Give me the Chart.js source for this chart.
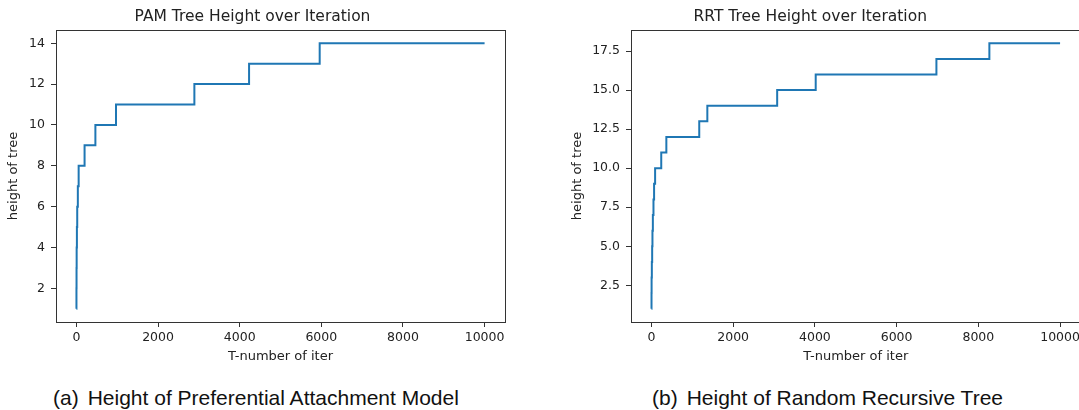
<!DOCTYPE html>
<html>
<head>
<meta charset="utf-8">
<script src="https://cdn.jsdelivr.net/npm/chart.js@4"></script>
<style>
  html, body { margin: 0; padding: 0; background: #fff; overflow: hidden; }
  body { width: 1079px; height: 410px; position: relative; }
  canvas { position: absolute; top: 0; }
  #pam-chart { left: 0; }
  #rrt-chart { left: 540px; }
  .caption { position: absolute; top: 386px; font-family: 'Liberation Sans', Arial, sans-serif; font-size: 21px; color: #111; white-space: nowrap; }
  .caption .lab { margin-right: 9px; }
</style>
</head>
<body>
<canvas id="pam-chart" width="540" height="375"></canvas>
<canvas id="rrt-chart" width="545" height="375"></canvas>
<div class="caption" style="left:53px"><span class="lab">(a)</span>Height of Preferential Attachment Model</div>
<div class="caption" style="left:652px"><span class="lab">(b)</span>Height of Random Recursive Tree</div>
<script>
const xTicks = [0, 2000, 4000, 6000, 8000, 10000];

// PAM: iteration where the tree height goes up, and the new height
const pamIter = [0, 1, 3, 6, 12, 20, 35, 55, 200, 465, 970, 2890, 4230, 5960, 10000];
const pamHeight = [1, 2, 3, 4, 5, 6, 7, 8, 9, 10, 11, 12, 13, 14, 14];
const pamTicks = [2, 4, 6, 8, 10, 12, 14];

// RRT
const rrtIter = [0, 2, 4, 10, 18, 25, 35, 50, 65, 90, 240, 365, 1170, 1368, 3077, 4020, 6974, 8270, 10000];
const rrtHeight = [1, 2, 3, 4, 5, 6, 7, 8, 9, 10, 11, 12, 13, 14, 15, 16, 17, 18, 18];
const rrtTicks = [2.5, 5, 7.5, 10, 12.5, 15, 17.5];

Chart.defaults.font.family = "'DejaVu Sans', sans-serif";
Chart.defaults.color = '#222';

// matplotlib style box round the axes
const frame = {
  id: 'frame',
  afterDraw(chart) {
    const { ctx, chartArea: a } = chart;
    ctx.save();
    ctx.strokeStyle = '#333';
    ctx.lineWidth = 1;
    ctx.strokeRect(Math.round(a.left) + 0.5, Math.round(a.top) + 0.5, Math.round(a.right - a.left), Math.round(a.bottom - a.top));
    ctx.restore();
  }
};

function makeChart(canvasId, title, iters, heights, yTicks, yMin, yMax, yFmt, yAxisWidth, yTitlePad, padRight) {
  const ctx = document.getElementById(canvasId).getContext('2d');
  return new Chart(ctx, {
    type: 'line',
    data: {
      datasets: [{
        data: iters.map((x, i) => ({ x: x, y: heights[i] })),
        borderColor: '#1f77b4',
        borderWidth: 2,
        pointRadius: 0,
        stepped: true,
        fill: false
      }]
    },
    options: {
      responsive: false,
      animation: false,
      layout: { padding: { left: 0, right: padRight, top: 0, bottom: 0 } },
      plugins: {
        legend: { display: false },
        tooltip: { enabled: false },
        title: {
          display: true,
          text: title,
          color: '#222',
          font: { size: 15.5, weight: 'normal', lineHeight: 1.2 },
          padding: { top: 7.5, bottom: 3.9 }
        }
      },
      scales: {
        x: {
          type: 'linear',
          min: -500,
          max: 10500,
          afterBuildTicks: s => { s.ticks = xTicks.map(v => ({ value: v })); },
          afterFit: s => { s.height = 53; },
          ticks: { font: { size: 12.5 }, padding: 3, maxRotation: 0, autoSkip: false, callback: v => String(v) },
          grid: { drawOnChartArea: false, tickLength: 5, color: '#333' },
          border: { display: false },
          title: { display: true, text: 'T-number of iter', font: { size: 13 }, padding: { top: 0, bottom: 11 } }
        },
        y: {
          min: yMin,
          max: yMax,
          afterBuildTicks: s => { s.ticks = yTicks.map(v => ({ value: v })); },
          afterFit: s => { s.width = yAxisWidth; },
          ticks: { font: { size: 12.5 }, padding: 6, callback: yFmt },
          grid: { drawOnChartArea: false, tickLength: 5, color: '#333' },
          border: { display: false },
          title: { display: true, text: 'height of tree', font: { size: 13 }, padding: { top: yTitlePad, bottom: 0 } }
        }
      }
    },
    plugins: [frame]
  });
}

makeChart('pam-chart', 'PAM Tree Height over Iteration', pamIter, pamHeight, pamTicks, 0.35, 14.65, v => String(v), 56, 6.2, 35);
makeChart('rrt-chart', 'RRT Tree Height over Iteration', rrtIter, rrtHeight, rrtTicks, 0.15, 18.85, v => v.toFixed(1), 91, 30, 4.5);
</script>
</body>
</html>
